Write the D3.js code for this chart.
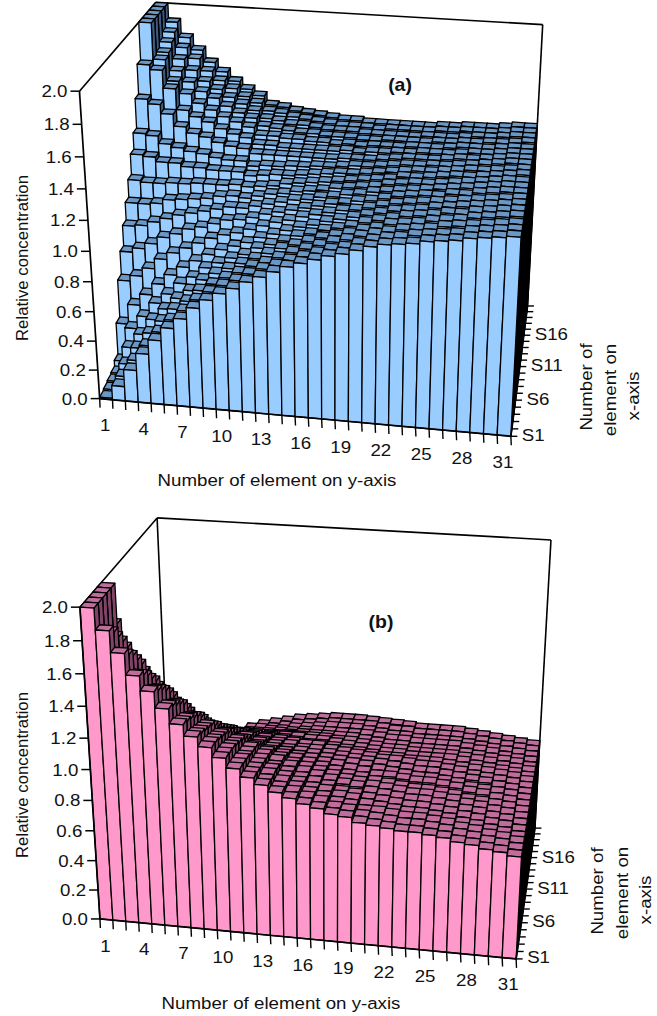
<!DOCTYPE html>
<html><head><meta charset="utf-8">
<script src="https://cdnjs.cloudflare.com/ajax/libs/d3/7.8.5/d3.min.js"></script>
<style>html,body{margin:0;padding:0;background:#fff}svg{display:block}text{font-family:"Liberation Sans",Arial,sans-serif;fill:#111}</style>
</head><body><svg id="c" width="657" height="1016"></svg>
<script>
const elementTicks=[1,4,7,10,13,16,19,22,25,28,31];
const rowTicks=[1,6,11,16];
const valueTicks=[0,0.2,0.4,0.6,0.8,1.0,1.2,1.4,1.6,1.8,2.0];
const concA=[
[.01,.10,.22,.34,.44,.53,.60,.68,.74,.79,.83,.88,.92,.96,1.00,1.03,1.06,1.09,1.11,1.14,1.17,1.19,1.20,1.21,1.23,1.24,1.25,1.27,1.28,1.29,1.30],
[.02,.12,.24,.35,.45,.54,.61,.69,.75,.80,.84,.89,.93,.96,1.00,1.03,1.06,1.09,1.11,1.14,1.17,1.19,1.20,1.22,1.23,1.24,1.25,1.27,1.28,1.29,1.30],
[.03,.16,.28,.39,.48,.57,.63,.71,.76,.81,.85,.90,.93,.97,1.01,1.04,1.07,1.10,1.12,1.15,1.17,1.19,1.21,1.22,1.23,1.25,1.26,1.27,1.28,1.29,1.30],
[.04,.23,.33,.44,.52,.60,.66,.74,.79,.83,.87,.91,.95,.99,1.02,1.05,1.08,1.10,1.12,1.15,1.17,1.20,1.21,1.22,1.24,1.25,1.26,1.28,1.29,1.30,1.31],
[.08,.32,.41,.51,.58,.66,.71,.78,.82,.86,.89,.94,.97,1.00,1.04,1.06,1.09,1.11,1.13,1.16,1.18,1.20,1.22,1.23,1.24,1.26,1.26,1.28,1.29,1.30,1.31],
[.30,.44,.52,.60,.67,.73,.78,.83,.87,.90,.93,.97,1.00,1.03,1.06,1.08,1.11,1.13,1.15,1.17,1.19,1.21,1.22,1.23,1.25,1.26,1.27,1.28,1.29,1.30,1.31],
[.56,.60,.66,.73,.78,.82,.86,.90,.93,.95,.98,1.01,1.04,1.06,1.09,1.11,1.13,1.15,1.16,1.18,1.20,1.22,1.23,1.24,1.25,1.26,1.27,1.28,1.29,1.30,1.31],
[.72,.75,.79,.84,.87,.91,.93,.96,.99,1.00,1.02,1.05,1.07,1.09,1.11,1.13,1.15,1.16,1.18,1.19,1.21,1.23,1.24,1.25,1.25,1.27,1.27,1.29,1.30,1.31,1.31],
[.86,.87,.90,.93,.96,.98,1.00,1.02,1.04,1.04,1.06,1.08,1.10,1.12,1.13,1.15,1.16,1.18,1.19,1.21,1.22,1.23,1.24,1.25,1.26,1.27,1.28,1.29,1.30,1.31,1.31],
[.98,.98,.99,1.02,1.03,1.04,1.05,1.07,1.08,1.07,1.09,1.11,1.12,1.14,1.15,1.16,1.18,1.19,1.20,1.21,1.23,1.24,1.25,1.25,1.26,1.27,1.28,1.29,1.30,1.31,1.31],
[1.10,1.09,1.09,1.10,1.10,1.11,1.11,1.11,1.12,1.11,1.12,1.13,1.15,1.16,1.17,1.18,1.19,1.20,1.21,1.22,1.23,1.25,1.25,1.26,1.27,1.28,1.28,1.29,1.30,1.31,1.32],
[1.24,1.23,1.20,1.20,1.18,1.18,1.17,1.17,1.17,1.15,1.16,1.17,1.17,1.18,1.19,1.20,1.21,1.21,1.22,1.23,1.24,1.25,1.26,1.26,1.27,1.28,1.29,1.29,1.30,1.31,1.32],
[1.35,1.34,1.29,1.27,1.25,1.24,1.22,1.21,1.21,1.18,1.19,1.19,1.20,1.20,1.21,1.21,1.22,1.23,1.23,1.24,1.25,1.26,1.26,1.27,1.27,1.28,1.29,1.30,1.31,1.32,1.32],
[1.55,1.52,1.46,1.38,1.34,1.32,1.29,1.27,1.26,1.23,1.23,1.23,1.23,1.23,1.23,1.23,1.24,1.24,1.24,1.25,1.26,1.27,1.27,1.27,1.28,1.29,1.29,1.30,1.31,1.32,1.32],
[1.75,1.72,1.60,1.46,1.42,1.39,1.35,1.32,1.30,1.26,1.26,1.25,1.25,1.25,1.25,1.25,1.26,1.25,1.26,1.26,1.27,1.27,1.28,1.28,1.28,1.29,1.30,1.30,1.31,1.32,1.32],
[2.00,1.76,1.62,1.54,1.48,1.44,1.40,1.37,1.34,1.29,1.29,1.28,1.28,1.27,1.27,1.26,1.27,1.26,1.27,1.27,1.27,1.28,1.28,1.28,1.29,1.30,1.30,1.30,1.31,1.32,1.32],
[2.00,1.78,1.66,1.59,1.53,1.49,1.44,1.40,1.37,1.32,1.31,1.30,1.29,1.29,1.28,1.28,1.28,1.27,1.27,1.28,1.28,1.28,1.28,1.29,1.29,1.30,1.30,1.31,1.31,1.32,1.33],
[2.00,1.82,1.71,1.64,1.57,1.52,1.47,1.43,1.39,1.34,1.33,1.31,1.31,1.30,1.29,1.29,1.29,1.28,1.28,1.28,1.28,1.28,1.29,1.29,1.29,1.30,1.31,1.31,1.32,1.33,1.33],
[2.00,1.86,1.76,1.69,1.61,1.55,1.50,1.45,1.41,1.36,1.35,1.33,1.32,1.31,1.30,1.29,1.29,1.29,1.28,1.29,1.29,1.29,1.29,1.30,1.30,1.31,1.31,1.31,1.32,1.33,1.33],
[2.00,1.90,1.80,1.72,1.64,1.58,1.52,1.47,1.43,1.37,1.36,1.34,1.33,1.32,1.31,1.30,1.30,1.29,1.29,1.29,1.29,1.29,1.29,1.30,1.30,1.31,1.31,1.31,1.32,1.33,1.33]];
const concB=[
[2.00,1.87,1.74,1.61,1.52,1.42,1.33,1.26,1.20,1.14,1.08,1.03,.99,.95,.92,.89,.87,.84,.83,.80,.79,.78,.77,.77,.76,.75,.73,.72,.70,.69,.67],
[2.00,1.83,1.70,1.58,1.49,1.40,1.31,1.24,1.19,1.13,1.07,1.02,.98,.94,.92,.89,.87,.84,.83,.80,.79,.78,.77,.77,.76,.75,.73,.72,.70,.69,.67],
[2.00,1.77,1.66,1.54,1.46,1.37,1.29,1.22,1.17,1.12,1.06,1.01,.98,.94,.91,.88,.86,.83,.82,.79,.79,.78,.77,.77,.76,.75,.73,.72,.70,.69,.67],
[2.00,1.71,1.60,1.49,1.42,1.34,1.26,1.20,1.15,1.10,1.04,1.00,.97,.93,.90,.87,.86,.83,.82,.79,.78,.77,.76,.76,.75,.74,.72,.71,.69,.68,.66],
[2.00,1.64,1.54,1.44,1.37,1.30,1.23,1.18,1.13,1.08,1.03,.99,.95,.92,.89,.87,.85,.82,.81,.79,.78,.77,.76,.76,.75,.74,.72,.71,.69,.68,.66],
[1.75,1.54,1.46,1.37,1.31,1.24,1.19,1.14,1.10,1.06,1.02,.98,.95,.92,.89,.87,.85,.83,.82,.79,.78,.77,.76,.76,.75,.74,.72,.71,.69,.68,.66],
[1.55,1.43,1.36,1.29,1.24,1.18,1.14,1.10,1.06,1.03,.99,.96,.93,.90,.88,.86,.84,.82,.81,.79,.78,.77,.76,.76,.75,.74,.72,.71,.69,.68,.66],
[1.35,1.30,1.25,1.19,1.16,1.11,1.08,1.05,1.02,.99,.96,.93,.91,.89,.87,.85,.83,.81,.80,.78,.77,.76,.75,.75,.74,.73,.71,.70,.69,.68,.66],
[1.24,1.20,1.16,1.12,1.09,1.06,1.03,1.01,.99,.97,.94,.91,.89,.87,.86,.84,.83,.81,.80,.78,.78,.77,.76,.76,.75,.74,.72,.71,.69,.68,.66],
[1.10,1.07,1.06,1.03,1.02,.99,.98,.97,.95,.93,.91,.89,.87,.86,.85,.83,.82,.81,.80,.78,.77,.76,.75,.75,.74,.73,.71,.70,.69,.68,.66],
[.98,.97,.96,.95,.95,.94,.93,.93,.91,.90,.89,.87,.86,.84,.84,.82,.81,.80,.79,.78,.77,.76,.75,.75,.74,.73,.72,.71,.69,.68,.66],
[.86,.86,.87,.87,.88,.88,.89,.89,.88,.87,.86,.85,.84,.83,.83,.81,.80,.79,.78,.77,.77,.76,.75,.75,.74,.73,.71,.70,.69,.68,.66],
[.72,.74,.77,.78,.80,.81,.83,.84,.84,.84,.83,.82,.81,.80,.80,.79,.78,.77,.76,.75,.75,.74,.74,.74,.73,.72,.71,.70,.69,.68,.66],
[.56,.60,.65,.68,.71,.74,.77,.79,.80,.80,.80,.80,.80,.79,.79,.78,.77,.76,.75,.74,.74,.73,.73,.73,.73,.72,.70,.69,.68,.67,.65],
[.30,.44,.51,.57,.61,.65,.70,.73,.75,.76,.76,.77,.77,.77,.77,.76,.76,.75,.74,.73,.73,.72,.72,.72,.72,.71,.70,.69,.67,.66,.65],
[.08,.31,.40,.47,.53,.58,.64,.69,.71,.72,.73,.74,.75,.75,.75,.75,.75,.74,.73,.72,.72,.71,.71,.71,.71,.70,.69,.68,.67,.66,.64],
[.04,.22,.33,.41,.48,.54,.60,.66,.68,.70,.71,.72,.73,.74,.74,.74,.74,.74,.73,.72,.72,.71,.71,.71,.71,.70,.69,.68,.66,.65,.64],
[.03,.16,.27,.37,.44,.50,.58,.63,.66,.68,.69,.71,.72,.73,.74,.74,.74,.73,.72,.71,.71,.70,.70,.70,.70,.69,.68,.67,.66,.65,.64],
[.02,.12,.24,.33,.41,.48,.56,.62,.65,.66,.68,.70,.71,.72,.73,.73,.73,.73,.72,.71,.71,.70,.70,.70,.70,.69,.68,.67,.66,.65,.64],
[.01,.10,.22,.32,.40,.47,.55,.61,.64,.66,.68,.70,.71,.72,.73,.73,.73,.725,.72,.715,.71,.70,.70,.70,.70,.69,.68,.67,.66,.65,.64]];

const boxA=[[0,0,0,100,399],[1,0,0,510,437],[1,1,0,528,305],[0,0,1,80,90],[0,1,1,155,3],[1,1,1,543,25]];
const boxB=[[0,0,0,100,919],[1,0,0,516,959],[1,1,0,535,828],[0,0,1,80,607],[0,1,1,157,518],[1,1,1,551,540]];

function solve(A,b){const n=b.length,M=A.map((r,i)=>[...r,b[i]]);
 for(let c=0;c<n;c++){let p=c;for(let r=c+1;r<n;r++)if(Math.abs(M[r][c])>Math.abs(M[p][c]))p=r;
  [M[c],M[p]]=[M[p],M[c]];
  for(let r=0;r<n;r++){if(r===c)continue;const f=M[r][c]/M[c][c];for(let k=c;k<=n;k++)M[r][k]-=f*M[c][k];}}
 return M.map((r,i)=>r[n]/r[i]);}
function fit(box){const rows=[],rhs=[];
 box.forEach(([X,Y,Z,u,v])=>{rows.push([X,Y,Z,1,0,0,0,0,-u*X,-u*Y,-u*Z]);rhs.push(u);
  rows.push([0,0,0,0,X,Y,Z,1,-v*X,-v*Y,-v*Z]);rhs.push(v);});
 const N=d3.range(11).map(i=>d3.range(11).map(j=>d3.sum(rows,r=>r[i]*r[j])));
 const B=d3.range(11).map(i=>d3.sum(rows,(r,k)=>r[i]*rhs[k]));
 const p=solve(N,B);
 return (X,Y,Z)=>{const w=p[8]*X+p[9]*Y+p[10]*Z+1;return [(p[0]*X+p[1]*Y+p[2]*Z+p[3])/w,(p[4]*X+p[5]*Y+p[6]*Z+p[7])/w];};}

const svg=d3.select('#c');
const xs=d3.scaleLinear().domain([0,31]).range([0,1]);
const ys=d3.scaleLinear().domain([0,20]).range([0,1]);
const zs=d3.scaleLinear().domain([0,2]).range([0,1]);
const poly=pts=>pts.map(p=>p.map(v=>v.toFixed(2)).join(',')).join(' ');

function chart(o){
 const P=fit(o.box),g=svg.append('g');
 const seg=(a,b,w=1.6)=>{const A=P(...a),B=P(...b);g.append('line').attr('x1',A[0]).attr('y1',A[1]).attr('x2',B[0]).attr('y2',B[1]).attr('stroke','#000').attr('stroke-width',w);};
 [[[0,0,1],[0,1,1]],[[0,1,1],[1,1,1]],[[1,1,1],[1,1,0]],[[0,1,0],[0,1,1]],[[0,0,0],[0,1,0]],[[0,1,0],[1,1,0]]].forEach(s=>seg(...s));
 const bars=g.append('g').attr('stroke','#000').attr('stroke-width',o.sw).attr('stroke-linejoin','round');
 for(let j=19;j>=0;j--){
  o.data[j].forEach((v,i)=>{
   const x0=xs(i),x1=xs(i+1),y0=ys(j),y1=ys(j+1),z=zs(v);
   bars.append('polygon').attr('fill',o.side).attr('points',poly([P(x1,y0,0),P(x1,y1,0),P(x1,y1,z),P(x1,y0,z)]));
   bars.append('polygon').attr('fill',o.top).attr('points',poly([P(x0,y0,z),P(x1,y0,z),P(x1,y1,z),P(x0,y1,z)]));
   bars.append('polygon').attr('fill',o.front).attr('points',poly([P(x0,y0,0),P(x1,y0,0),P(x1,y0,z),P(x0,y0,z)]));
  });
 }
 seg([0,0,0],[0,0,1],1.7);seg([0,0,0],[1,0,0],1.7);seg([1,0,0],[1,1,0],1.7);
 const label=(t,x,y,anchor)=>g.append('text').attr('transform',`translate(${x},${y}) scale(1.1,1)`).attr('text-anchor',anchor).attr('font-size',17).text(t);
 valueTicks.forEach(v=>{const p=P(0,0,zs(v));
  g.append('line').attr('x1',p[0]-9).attr('x2',p[0]).attr('y1',p[1]).attr('y2',p[1]).attr('stroke','#000').attr('stroke-width',1.5);
  label(v.toFixed(1),p[0]-12,p[1]+6,'end');});
 d3.range(32).forEach(i=>{const p=P(xs(i),0,0);
  g.append('line').attr('x1',p[0]).attr('x2',p[0]+0.4).attr('y1',p[1]).attr('y2',p[1]+9).attr('stroke','#000').attr('stroke-width',1.4);});
 elementTicks.forEach(e=>{const p=P(xs(e-0.5),0,0);label(e,p[0]-1,p[1]+32,'middle');});
 d3.range(21).forEach(j=>{const p=P(1,ys(j),0);
  g.append('line').attr('x1',p[0]).attr('x2',p[0]+6.5).attr('y1',p[1]).attr('y2',p[1]).attr('stroke','#000').attr('stroke-width',1.4);});
 rowTicks.forEach(s=>{const p=P(1,ys(s-0.5),0);label('S'+s,p[0]+10.5,p[1]+8,'start');});
 g.append('text').attr('transform',`translate(${o.title[0]},${o.title[1]}) scale(1.1,1)`).attr('text-anchor','middle').attr('font-size',17).text('Number of element on y-axis');
 g.append('text').attr('transform',`translate(${o.rel[0]},${o.rel[1]}) rotate(-90)`).attr('text-anchor','middle').attr('font-size',16.8).text('Relative concentration');
 ['Number of','element on','x-axis'].forEach((t,k)=>{const c=o.side3[k];
  g.append('text').attr('transform',`translate(${c[0]},${c[1]}) rotate(-90) scale(1.1,1)`).attr('text-anchor','middle').attr('font-size',17).text(t);});
 g.append('text').attr('transform',`translate(${o.tag[0]},${o.tag[1]}) scale(1.08,1)`).attr('text-anchor','middle').attr('font-size',18).attr('font-weight','bold').text(o.tagText);
}
chart({box:boxA,data:concA,front:'#99ccff',top:'#6b97c4',side:'#3a5a80',sw:1.3,title:[277,486],rel:[28,258],
 side3:[[592,387],[616,390],[639,396]],tag:[400,91],tagText:'(a)'});
chart({box:boxB,data:concB,front:'#ff99cc',top:'#bf6d9c',side:'#804468',sw:1.3,title:[281,1009],rel:[28,775],
 side3:[[603,891],[628,893],[651,900]],tag:[381,628],tagText:'(b)'});
</script></body></html>
